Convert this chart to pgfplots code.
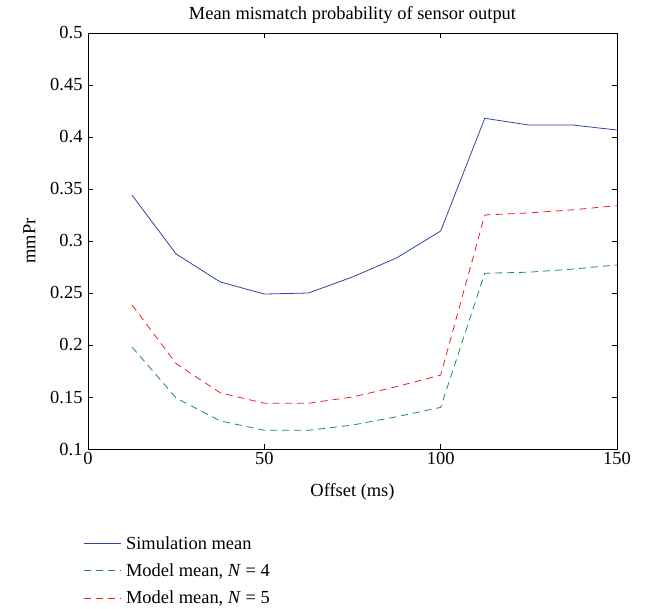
\documentclass[border=0pt]{standalone}
\usepackage{pgfplots}
\pgfplotsset{compat=1.18}
\usepackage{fontspec}
\setmainfont{Liberation Serif}
\definecolor{cblue}{RGB}{45,70,165}
\definecolor{cgreen}{RGB}{30,140,70}
\definecolor{cred}{RGB}{240,30,30}
\newcommand{\ff}{\fontsize{18.5}{22}\selectfont}
\begin{document}
\begin{tikzpicture}
\path[use as bounding box] (-88bp,-160bp) rectangle (558bp,449bp);
\begin{axis}[
  scale only axis, width=529bp, height=416bp,
  xmin=0, xmax=150, ymin=0.1, ymax=0.5,
  xtick={0,50,100,150},
  ytick={0.1,0.15,0.2,0.25,0.3,0.35,0.4,0.45,0.5},
  yticklabels={0.1,0.15,0.2,0.25,0.3,0.35,0.4,0.45,0.5},
  tick align=inside, tick style={black, line width=0.6pt}, major tick length=5bp,
  axis line style={line width=0.8pt},
  /pgf/number format/assume math mode=true,
  ticklabel style={font=\ff},
  yticklabel style={xshift=-2bp},
  title={Mean mismatch probability of sensor output},
  title style={font=\ff, yshift=0bp},
  xlabel={Offset (ms)}, ylabel={mmPr},
  label style={font=\ff},
  xlabel style={yshift=-12bp},
  ylabel style={yshift=8bp},
  legend style={at={(-0.015,-0.2)}, anchor=north west, draw=none, font=\ff, row sep=9bp},
  legend cell align=left,
  legend image code/.code={\draw[#1, line width=1pt] (0cm,0cm) -- (13mm,0cm);},
]
\addplot[cblue, line width=0.8pt] coordinates {
(12.5,0.344) (25,0.2875) (37.5,0.2606) (50,0.249) (62.5,0.250) (75,0.2654) (87.5,0.2837) (100,0.3096) (112.5,0.418) (125,0.4115) (137.5,0.4115) (150,0.4067)};
\addlegendentry{\hspace{3bp}Simulation mean}
\addplot[cgreen, line width=0.8pt, dash pattern=on 7bp off 5bp] coordinates {
(12.5,0.198) (25,0.149) (37.5,0.127) (50,0.118) (62.5,0.118) (75,0.123) (87.5,0.131) (100,0.140) (112.5,0.269) (125,0.270) (137.5,0.273) (150,0.277)};
\addlegendentry{\hspace{3bp}Model mean, \textit{N} = 4}
\addplot[cred, line width=0.8pt, dash pattern=on 7bp off 5bp] coordinates {
(12.5,0.2385) (25,0.182) (37.5,0.154) (50,0.144) (62.5,0.144) (75,0.150) (87.5,0.160) (100,0.171) (112.5,0.325) (125,0.327) (137.5,0.330) (150,0.334)};
\addlegendentry{\hspace{3bp}Model mean, \textit{N} = 5}
\end{axis}
\end{tikzpicture}
\end{document}
